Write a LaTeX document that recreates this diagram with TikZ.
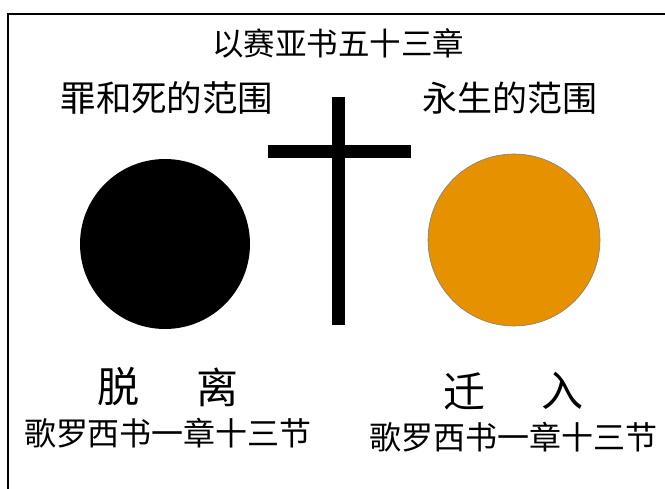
\documentclass[tikz,border=0pt]{standalone}
\usepackage{fontspec}
\newfontfamily\cjk{Noto Sans CJK SC}
\definecolor{lifeorange}{HTML}{E69100}
\begin{document}
\begin{tikzpicture}[x=1pt,y=-1pt,
  lbl/.style={inner sep=0pt,font=\cjk},
  bar/.style={fill=black,draw=none}]
\useasboundingbox (0,0) rectangle (665,489);
\fill[white] (0,0) rectangle (665,489);
% frame (top and left edges only)
\coordinate (tl) at (8,14);
\coordinate (tr) at (665,14);
\coordinate (bl) at (8,489);
\draw[line width=1.6pt] (tr) -- (tl) -- (bl);
% title and headings
\node[lbl,font=\cjk\fontsize{31.5}{31.5}\selectfont] (title) at (338,43) {以赛亚书五十三章};
\node[lbl,font=\cjk\fontsize{35.5}{35.5}\selectfont] (sin) at (167,98) {罪和死的范围};
\node[lbl,font=\cjk\fontsize{35}{35}\selectfont] (life) at (510,98) {永生的范围};
% circles
\fill[black] (165,244) circle[radius=85];
\filldraw[fill=lifeorange,draw=gray,line width=0.6pt] (514,240) circle[radius=86];
% cross
\fill[black] (332,97) rectangle (345,325);
\fill[black] (268,145) rectangle (411,158);
% bottom labels
\node[lbl,font=\cjk\fontsize{42}{42}\selectfont] (tuo) at (118,387) {脱};
\node[lbl,font=\cjk\fontsize{42}{42}\selectfont] (li) at (217,387) {离};
\node[lbl,font=\cjk\fontsize{42}{42}\selectfont] (qian) at (464,391) {迁};
\node[lbl,font=\cjk\fontsize{42}{42}\selectfont] (ru) at (562,391) {入};
\node[lbl,font=\cjk\fontsize{32}{32}\selectfont] (refl) at (168,433) {歌罗西书一章十三节};
\node[lbl,font=\cjk\fontsize{32}{32}\selectfont] (refr) at (513,437) {歌罗西书一章十三节};
\end{tikzpicture}
\end{document}
